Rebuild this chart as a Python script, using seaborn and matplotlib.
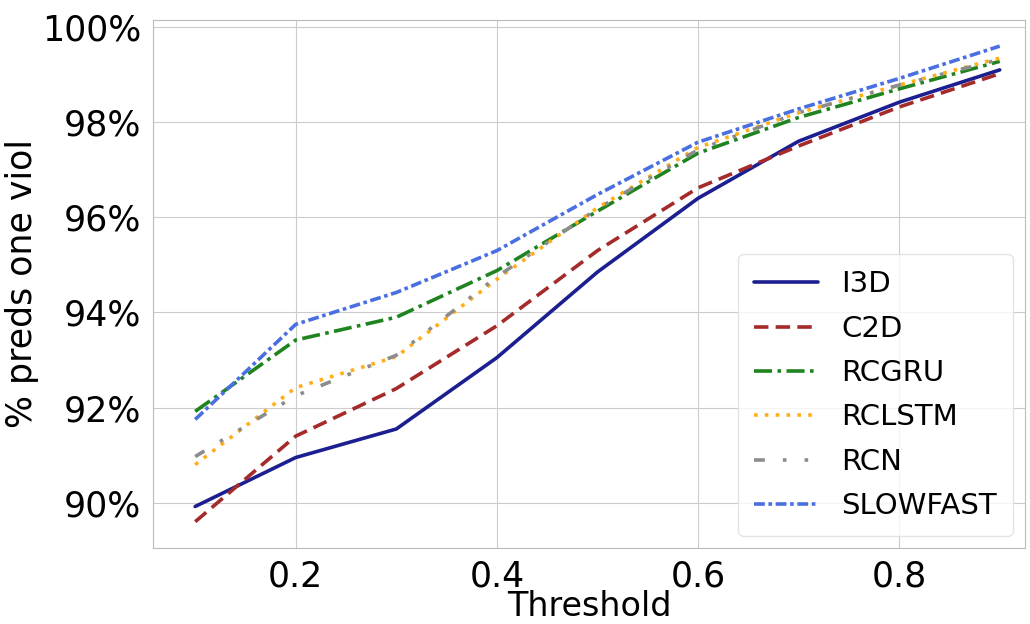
import matplotlib
matplotlib.use("Agg")
import matplotlib.pyplot as plt
import seaborn as sns
import pandas as pd
from matplotlib.ticker import FuncFormatter

thresholds = [0.1, 0.2, 0.3, 0.4, 0.5, 0.6, 0.7, 0.8, 0.9]
i3d      = [89.92, 90.95, 91.55, 93.05, 94.85, 96.40, 97.60, 98.42, 99.10]
c2d      = [89.60, 91.40, 92.40, 93.72, 95.30, 96.62, 97.50, 98.32, 99.02]
rcgru    = [91.92, 93.42, 93.90, 94.88, 96.13, 97.35, 98.10, 98.70, 99.28]
rclstm   = [90.80, 92.42, 93.07, 94.70, 96.20, 97.47, 98.20, 98.78, 99.35]
rcn      = [90.97, 92.25, 93.10, 94.75, 96.18, 97.42, 98.20, 98.78, 99.32]
slowfast = [91.75, 93.75, 94.42, 95.30, 96.48, 97.58, 98.28, 98.92, 99.60]

models = ["I3D", "C2D", "RCGRU", "RCLSTM", "RCN", "SLOWFAST"]
series = [i3d, c2d, rcgru, rclstm, rcn, slowfast]

rows = []
for m, vals in zip(models, series):
    for t, v in zip(thresholds, vals):
        rows.append({"Threshold": t, "value": v, "model": m})
df = pd.DataFrame(rows)

palette = {"I3D": "#1c1f8f", "C2D": "#a52a2a", "RCGRU": "#1f841f",
           "RCLSTM": "#ffae1a", "RCN": "#8c8c8c", "SLOWFAST": "#4a6fe0"}
dashes = {"I3D": "", "C2D": (4, 2), "RCGRU": (5, 1.5, 1, 1.5),
          "RCLSTM": (1, 2), "RCN": (3, 5, 1, 5, 1, 5), "SLOWFAST": (3, 1, 1, 1)}

sns.set_style("whitegrid")
plt.rcParams['font.family'] = ['DejaVu Sans']
plt.rcParams['text.color'] = 'black'
plt.rcParams['axes.labelcolor'] = 'black'
plt.rcParams['xtick.color'] = 'black'
plt.rcParams['ytick.color'] = 'black'

fig = plt.figure(figsize=(10.3, 6.24), dpi=100)
ax = fig.add_axes([0.1485, 0.122, 0.8465, 0.846])

sns.lineplot(data=df, x="Threshold", y="value", hue="model", style="model",
             hue_order=models, style_order=models, palette=palette,
             dashes=dashes, linewidth=2.6, ax=ax)

ax.set_xlim(0.058, 0.925)
ax.set_ylim(89.05, 100.15)
ax.set_xticks([0.2, 0.4, 0.6, 0.8])
ax.set_yticks([90, 92, 94, 96, 98, 100])
ax.yaxis.set_major_formatter(FuncFormatter(lambda v, p: f"{v:.0f}%"))
ax.tick_params(axis="both", labelsize=25, pad=5)
ax.set_xlabel("Threshold", fontsize=24, labelpad=-3)
ax.set_ylabel("% preds one viol", fontsize=25, labelpad=2)
for s in ax.spines.values():
    s.set_color("#bbbbbb")

leg = ax.legend(loc="lower right", fontsize=21, frameon=True,
                labelspacing=0.56, borderpad=0.55, handlelength=2.2,
                borderaxespad=0.4)
leg.get_frame().set_edgecolor("#dddddd")

fig.savefig("out.png", dpi=100)
